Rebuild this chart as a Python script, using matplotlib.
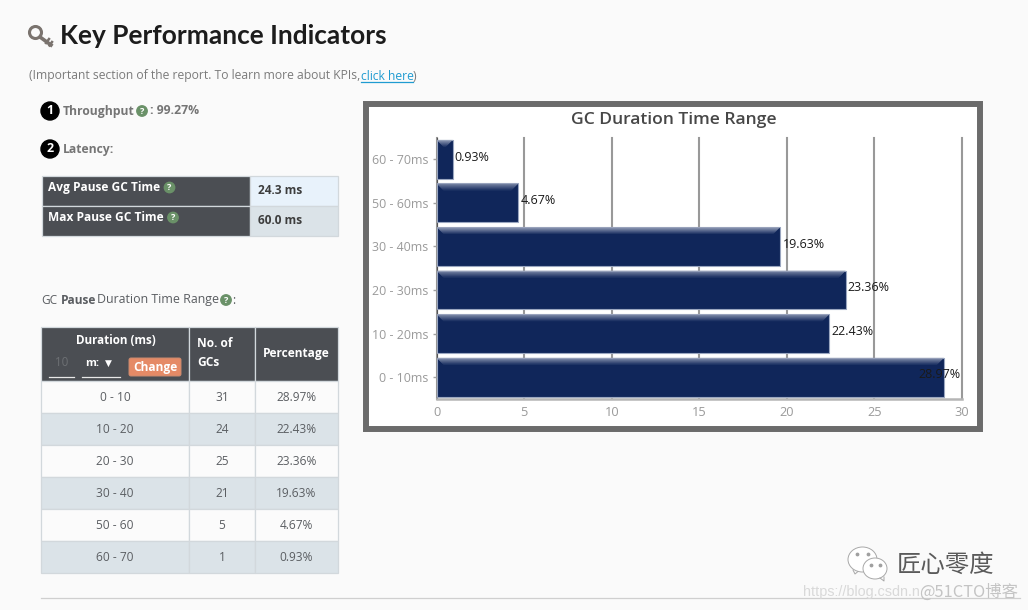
"""Key Performance Indicators panel of a GC report, table and bar chart."""

import matplotlib

matplotlib.use("Agg")

import matplotlib.pyplot as plt
import numpy as np
from matplotlib.colors import to_rgb
from matplotlib.patches import Circle, Ellipse, FancyBboxPatch, Polygon, Rectangle

W, H = 1028, 610

duration_ranges = ["0 - 10", "10 - 20", "20 - 30", "30 - 40", "50 - 60", "60 - 70"]
gc_counts = [31, 24, 25, 21, 5, 1]
percentages = [28.97, 22.43, 23.36, 19.63, 4.67, 0.93]
x_ticks = [0, 5, 10, 15, 20, 25, 30]
latency_labels = ["Avg Pause GC Time", "Max Pause GC Time"]
latency_values = ["24.3 ms", "60.0 ms"]

DARK = "#4b4e53"
GREY_TEXT = "#757575"
BODY = "#5a5d61"
LINE = "#d2d8dc"
STRIPE = "#dbe3e8"
NAVY = "#10265a"
HELP = "#6a9168"
FONT = "Open Sans"


def help_icon(ax, x, y, r=5.2):
    ax.add_patch(Circle((x, y), r, color=HELP, zorder=5))
    ax.text(x, y + 0.3, "?", color="white", fontsize=6.5, fontweight="bold",
            family=FONT, ha="center", va="center", zorder=6)


def badge(ax, x, y, label):
    ax.add_patch(Circle((x, y), 9, color="black", zorder=5))
    ax.text(x, y, label, color="white", fontsize=9, fontweight="bold",
            family=FONT, ha="center", va="center", zorder=6)


def cell(ax, x0, y0, x1, y1, color):
    ax.add_patch(Rectangle((x0, y0), x1 - x0, y1 - y0, facecolor=color,
                           edgecolor=LINE, linewidth=0.9))


def draw_key(ax):
    ax.add_patch(Circle((35.5, 32.5), 6, fill=False, edgecolor="#7a736e", linewidth=2.2))
    ax.plot([40, 51], [37, 45], color="#7a736e", linewidth=2.6)
    ax.plot([46, 49], [43, 39], color="#7a736e", linewidth=1.8)
    ax.plot([49.5, 52], [45.5, 42], color="#7a736e", linewidth=1.8)


def draw_wechat(ax):
    for x, y, rx, ry in ((862.5, 559.5, 14.5, 12.5), (875, 568.5, 12, 10.5)):
        ax.add_patch(Ellipse((x, y), 2 * rx, 2 * ry, facecolor="white",
                             edgecolor="#a8a8a8", linewidth=0.7))
    ax.scatter([857, 868, 871, 880], [554, 554, 565, 565], s=3, color="#a0a0a0", zorder=4)
    ax.plot([853, 855, 858], [570, 574, 571.5], color="#a8a8a8", linewidth=0.7)
    ax.plot([880, 884, 884], [578, 581, 577], color="#a8a8a8", linewidth=0.7)


def draw_page(ax):
    draw_key(ax)
    ax.text(60, 35.5, "Key Performance Indicators", fontsize=18.95, fontweight="bold",
            family="Lato", color="#1c1c1c", va="center")
    ax.text(29, 76, "(Important section of the report. To learn more about KPIs,",
            fontsize=8.7, family=FONT, color="#7b7b7b", va="center")
    ax.text(361, 76, "click here", fontsize=8.7, family=FONT, color="#1f9bd1", va="center")
    ax.plot([361, 413], [82, 82], color="#1f9bd1", linewidth=0.9)
    ax.text(413, 76, ")", fontsize=8.7, family=FONT, color="#7b7b7b", va="center")

    badge(ax, 50, 111, "1")
    ax.text(63, 111, "Throughput", fontsize=8.7, fontweight="bold", family=FONT,
            color=GREY_TEXT, va="center")
    help_icon(ax, 142, 111)
    ax.text(150, 111, ": 99.27%", fontsize=8.8, fontweight="bold", family=FONT,
            color=GREY_TEXT, va="center")
    badge(ax, 50, 149, "2")
    ax.text(63, 149, "Latency:", fontsize=8.7, fontweight="bold", family=FONT,
            color=GREY_TEXT, va="center")

    # latency table
    for i, (label, value) in enumerate(zip(latency_labels, latency_values)):
        y0 = 175.5 + 30 * i
        cell(ax, 41.5, y0, 250, y0 + 30, DARK)
        cell(ax, 250, y0, 337.5, y0 + 30, ["#e8f2fb", STRIPE][i])
        ax.text(48.5, y0 + 12, label, fontsize=8.6, fontweight="bold", family=FONT,
                color="white", va="center")
        help_icon(ax, 169.5 + 3.5 * i, y0 + 12)
        ax.text(257.5, y0 + 15.5, value, fontsize=8.6, fontweight="bold", family=FONT,
                color="#3d3d3d", va="center")

    ax.text(41, 300, "GC", fontsize=8.6, family=FONT, color=BODY, va="center")
    ax.text(61, 300, "Pause", fontsize=8.6, fontweight="bold", family=FONT, color=BODY, va="center")
    ax.text(97, 300, "Duration Time Range", fontsize=8.9, family=FONT, color=BODY, va="center")
    help_icon(ax, 226, 300)
    ax.text(232, 300, ":", fontsize=8.6, family=FONT, color=BODY, va="center")

    # duration table header
    header_top, header_bottom = 326.5, 380.5
    cell(ax, 41, header_top, 189, header_bottom, DARK)
    cell(ax, 189, header_top, 255, header_bottom, DARK)
    cell(ax, 255, header_top, 337.5, header_bottom, DARK)
    ax.text(115.5, 340, "Duration (ms)", fontsize=8.4, fontweight="bold", family=FONT,
            color="white", ha="center", va="center")
    ax.text(61.5, 363, "10", fontsize=8.4, family=FONT, color="#6d7074", ha="center", va="center")
    ax.plot([49, 74], [376.5, 376.5], color="#e8e8e8", linewidth=0.9)
    ax.text(92, 363, "m:", fontsize=8, fontweight="bold", family=FONT, color="white",
            ha="center", va="center")
    ax.text(108, 363, "\u25bc", fontsize=6.5, family="DejaVu Sans", color="white",
            ha="center", va="center")
    ax.plot([82, 120], [376.5, 376.5], color="#e8e8e8", linewidth=0.9)
    ax.add_patch(FancyBboxPatch((129, 358), 52, 18, boxstyle="round,pad=0,rounding_size=2",
                                facecolor="#e58a66", edgecolor="#c98a70", linewidth=0.7))
    ax.text(155, 367, "Change", fontsize=8.6, fontweight="bold", family=FONT, color="white",
            ha="center", va="center")
    ax.text(197, 343.5, "No. of", fontsize=8.6, fontweight="bold", family=FONT, color="white", va="center")
    ax.text(197, 362.5, "GCs", fontsize=8.6, fontweight="bold", family=FONT, color="white", va="center")
    ax.text(296.5, 354, "Percentage", fontsize=8.6, fontweight="bold", family=FONT, color="white",
            ha="center", va="center")

    # duration table rows
    for i, (rng, count, pct) in enumerate(zip(duration_ranges, gc_counts, percentages)):
        y0 = 380.5 + 32 * i
        color = STRIPE if i % 2 else "#fbfbfb"
        cell(ax, 41, y0, 189, y0 + 32, color)
        cell(ax, 189, y0, 255, y0 + 32, color)
        cell(ax, 255, y0, 337.5, y0 + 32, color)
        for x, txt in ((115, rng), (222, str(count)), (296.5, f"{pct:.2f}%")):
            ax.text(x, y0 + 17, txt, fontsize=8.6, family=FONT, color="#5b5e62",
                    ha="center", va="center")

    ax.plot([41, 1020], [597.5, 597.5], color="#cfcfcf", linewidth=0.9)

    # chart frame
    ax.add_patch(Rectangle((366, 104), 614, 325, facecolor="white", edgecolor="#6b6b6b", linewidth=4.3))
    ax.text(673.5, 119.5, "GC Duration Time Range", fontsize=12.6, fontweight="semibold",
            family=FONT, color="#474747", ha="center", va="center")

    # watermark
    draw_wechat(ax)
    ax.text(945.5, 565, "\u5320\u5fc3\u96f6\u5ea6", fontsize=17.6, family="Noto Sans CJK SC",
            color="#5a5a5a", ha="center", va="center", fontweight="light")
    ax.text(803, 592, "https://blog.csdn.n", fontsize=10.4, family="Liberation Sans",
            color="#d9d9d9", va="center")
    ax.text(919, 592, "@51CTO\u535a\u5ba2", fontsize=11.8, family=["Noto Sans CJK SC", "DejaVu Sans"],
            color="#c4c4c4", va="center")


def draw_bars(ax):
    y = np.arange(len(percentages))
    bar_h = 0.89
    ax.barh(y, percentages, height=bar_h, color=NAVY, edgecolor="#9aa6c0", linewidth=0.8, zorder=3)

    # bevel on top of each bar
    top = np.array(to_rgb("#98a2bb"))
    bottom = np.array(to_rgb(NAVY))
    bevel_h = 0.16
    bevel_w = 0.4
    n = 7
    for yi, value in zip(y, percentages):
        upper = yi + bar_h / 2
        for k in range(n):
            f0, f1 = k / n, (k + 1) / n
            color = top + (bottom - top) * f0
            ax.add_patch(Polygon(
                [(bevel_w * f0, upper - bevel_h * f0),
                 (value - bevel_w * f0, upper - bevel_h * f0),
                 (value - bevel_w * f1, upper - bevel_h * f1),
                 (bevel_w * f1, upper - bevel_h * f1)],
                facecolor=color, edgecolor="none", zorder=4))

    for yi, value in zip(y, percentages):
        label = f"{value:.2f}%"
        if value > 27:
            ax.text(29.9, yi + 0.07, label, fontsize=9, family=FONT, color="#1a1a1a",
                    ha="right", va="center", zorder=6)
        else:
            ax.annotate(label, (value, yi + 0.05), xytext=(1.5, 0), textcoords="offset points",
                        fontsize=9, family=FONT, color="#1a1a1a", va="center", zorder=6)

    ax.set_xlim(x_ticks[0], x_ticks[-1])
    ax.set_ylim(-0.5, len(percentages) - 0.5)
    ax.set_xticks(x_ticks)
    ax.set_xticklabels([str(t) for t in x_ticks])
    ax.set_yticks(y)
    ax.set_yticklabels([f"{r}ms" for r in duration_ranges])
    ax.tick_params(axis="x", length=0, pad=5, labelsize=9.2, labelcolor="#9a9a9a")
    ax.tick_params(axis="y", length=3, width=1, color="#a0a0a0", pad=3, labelsize=8.9, labelcolor="#9a9a9a")
    for lab in ax.get_xticklabels() + ax.get_yticklabels():
        lab.set_family(FONT)
    ax.grid(True, axis="x", color="#999999", linewidth=1.5, zorder=1, clip_on=False)
    ax.set_axisbelow(True)
    ax.set_facecolor("none")
    for side in ("top", "right"):
        ax.spines[side].set_visible(False)
    ax.spines["left"].set_color("#555555")
    ax.spines["bottom"].set_color("#b5b5b5")
    ax.spines["bottom"].set_linewidth(1.8)


def main():
    fig = plt.figure(figsize=(W / 100, H / 100), dpi=100, facecolor="#fafafa")
    page = fig.add_axes([0, 0, 1, 1])
    page.set_xlim(0, W)
    page.set_ylim(H, 0)
    page.axis("off")
    draw_page(page)

    left, right, top, bottom = 436.5, 962, 137.5, 399
    chart = fig.add_axes([left / W, 1 - bottom / H, (right - left) / W, (bottom - top) / H])
    draw_bars(chart)

    fig.savefig("out.png", dpi=100, facecolor=fig.get_facecolor())
    plt.close(fig)


if __name__ == "__main__":
    main()
